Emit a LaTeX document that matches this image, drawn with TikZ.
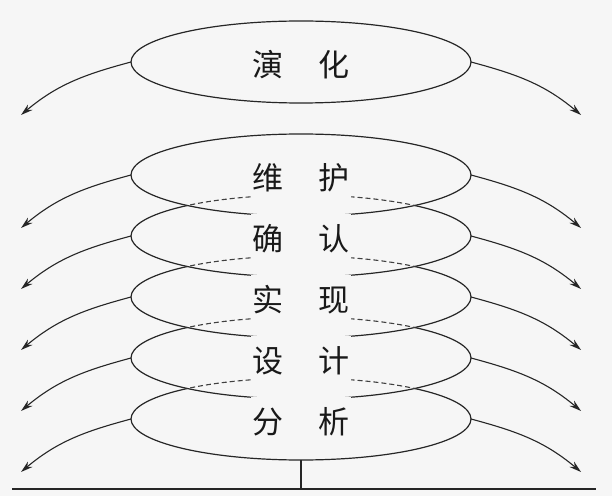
\documentclass[tikz,border=0pt]{standalone}
\usepackage{fontspec}
\newfontfamily\cjk{Noto Sans CJK SC}
\usetikzlibrary{arrows.meta,shapes.geometric,positioning}
\definecolor{paper}{RGB}{246,246,246}
\tikzset{every picture/.style={/utils/exec={\cjk\fontsize{31}{31}\selectfont}}}

\begin{document}
\begin{tikzpicture}[x=1pt,y=1pt,node distance=61pt]
  \tikzstyle{stage} = [ellipse, draw=black!85, line width=1.2pt, fill=paper, minimum width=340pt, minimum height=82pt, inner sep=0pt, outer sep=0pt]
  \tikzstyle{word} = [fill=paper, inner xsep=1pt, minimum height=44pt, yshift=-3pt, text=black!90]
  \tikzstyle{hidden} = [draw=black!75, line width=1.1pt, dash pattern=on 5pt off 3pt]
  \tikzstyle{arrow} = [-{Stealth[length=12pt,width=7pt]}, line width=1.1pt, black!85]

  \fill[paper] (0,0) rectangle (612,496);

  % bottom first, so each upper one covers the top of the one below
  \node (fenxi) [stage] at (301,77) {};
  \node (sheji) [stage, above of=fenxi] {};
  \node (shixian) [stage, above of=sheji] {};
  \node (queren) [stage, above of=shixian] {};
  \node (weihu) [stage, above of=queren] {};
  \node (yanhua) [stage, above of=weihu, yshift=52pt] {};

  % covered part of each lower outline
  \foreach \up/\lo in {weihu/queren, queren/shixian, shixian/sheji, sheji/fenxi} {
    \begin{scope}
      \clip (\up.center) ellipse (170pt and 41pt);
      \draw [hidden] (\lo.center) ellipse (170pt and 41pt);
    \end{scope}
  }

  \node (yanhua-t) [word] at (yanhua) {演\hspace{1.15em}化};
  \node (weihu-t) [word] at (weihu) {维\hspace{1.15em}护};
  \node (queren-t) [word] at (queren) {确\hspace{1.15em}认};
  \node (shixian-t) [word] at (shixian) {实\hspace{1.15em}现};
  \node (sheji-t) [word] at (sheji) {设\hspace{1.15em}计};
  \node (fenxi-t) [word] at (fenxi) {分\hspace{1.15em}析};

  % arrows on both sides
  \foreach \s in {yanhua, weihu, queren, shixian, sheji, fenxi} {
    \coordinate (\s-l) at ([shift={(-110pt,-53pt)}]\s.west);
    \coordinate (\s-r) at ([shift={(110pt,-53pt)}]\s.east);
    \draw [arrow] (\s.west) to[out=195, in=40] (\s-l);
    \draw [arrow] (\s.east) to[out=-15, in=140] (\s-r);
  }

  \coordinate (base) at (301,7);
  \coordinate (base-l) at (12,7);
  \coordinate (base-r) at (596,7);
  \draw [line width=1.5pt, black!85] (fenxi.south) -- (base);
  \draw [line width=2.8pt, black!85] (base-l) -- (base-r);
\end{tikzpicture}
\end{document}
